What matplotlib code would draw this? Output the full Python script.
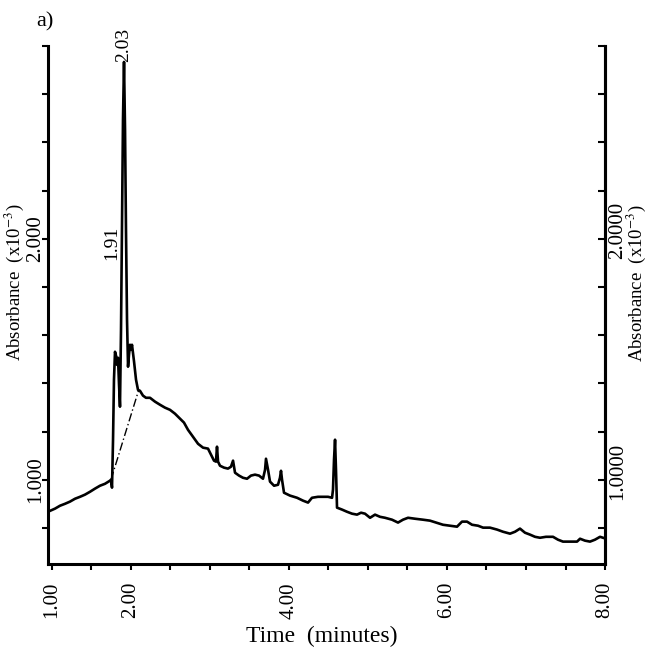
import numpy as np
import matplotlib
matplotlib.use('Agg')
import matplotlib.pyplot as plt
import matplotlib.transforms as mtransforms

plt.rcParams['font.family'] = ['Liberation Serif', 'DejaVu Serif']
plt.rcParams['mathtext.fontset'] = 'stix'

# chromatogram trace (time in minutes, absorbance x10^-3)
time_min = [0.950, 1.039, 1.102, 1.165, 1.228, 1.292, 1.355, 1.418, 1.482, 1.545,
            1.608, 1.671, 1.735, 1.747, 1.760, 1.773, 1.785, 1.798, 1.811, 1.823,
            1.836, 1.849, 1.861, 1.874, 1.887, 1.899, 1.912, 1.925, 1.937, 1.950,
            1.963, 1.975, 1.988, 2.001, 2.013, 2.039, 2.064, 2.089, 2.114, 2.152,
            2.190, 2.241, 2.304, 2.368, 2.431, 2.494, 2.557, 2.621, 2.671, 2.722,
            2.785, 2.849, 2.912, 2.975, 3.013, 3.051, 3.076, 3.089, 3.102, 3.127,
            3.178, 3.228, 3.266, 3.292, 3.317, 3.368, 3.418, 3.469, 3.519, 3.570,
            3.621, 3.671, 3.697, 3.709, 3.735, 3.760, 3.811, 3.861, 3.886, 3.899,
            3.912, 3.937, 4.013, 4.102, 4.178, 4.241, 4.291, 4.367, 4.431, 4.494,
            4.545, 4.557, 4.570, 4.583, 4.595, 4.608, 4.671, 4.734, 4.798, 4.861,
            4.912, 4.962, 5.026, 5.089, 5.152, 5.215, 5.304, 5.380, 5.443, 5.507,
            5.595, 5.696, 5.785, 5.861, 5.949, 6.038, 6.127, 6.190, 6.253, 6.317,
            6.393, 6.456, 6.544, 6.633, 6.709, 6.798, 6.861, 6.924, 6.987, 7.051,
            7.114, 7.177, 7.253, 7.342, 7.405, 7.468, 7.557, 7.646, 7.684, 7.747,
            7.810, 7.873, 7.937, 7.975]
absorb = [0.867, 0.880, 0.892, 0.900, 0.909, 0.921, 0.929, 0.938, 0.950, 0.963,
          0.975, 0.983, 0.996, 1.000, 0.967, 1.166, 1.415, 1.531, 1.515, 1.477,
          1.506, 1.394, 1.303, 1.622, 2.079, 2.494, 2.734, 2.452, 2.037, 1.664,
          1.469, 1.519, 1.560, 1.539, 1.560, 1.490, 1.415, 1.373, 1.369, 1.349,
          1.340, 1.340, 1.324, 1.311, 1.299, 1.290, 1.274, 1.253, 1.237, 1.207,
          1.178, 1.149, 1.133, 1.129, 1.104, 1.079, 1.075, 1.137, 1.075, 1.058,
          1.050, 1.046, 1.054, 1.079, 1.029, 1.017, 1.008, 1.004, 1.017, 1.021,
          1.017, 1.004, 1.041, 1.087, 1.041, 0.992, 0.975, 0.979, 1.008, 1.037,
          1.000, 0.946, 0.934, 0.925, 0.913, 0.905, 0.925, 0.929, 0.929, 0.929,
          0.925, 0.959, 1.083, 1.166, 1.041, 0.884, 0.876, 0.867, 0.859, 0.855,
          0.863, 0.859, 0.842, 0.855, 0.846, 0.842, 0.834, 0.822, 0.834, 0.842,
          0.838, 0.834, 0.830, 0.822, 0.813, 0.809, 0.805, 0.826, 0.826, 0.813,
          0.809, 0.801, 0.801, 0.793, 0.784, 0.776, 0.784, 0.797, 0.780, 0.772,
          0.763, 0.759, 0.763, 0.763, 0.751, 0.743, 0.743, 0.743, 0.755, 0.747,
          0.743, 0.751, 0.763, 0.759]

# dash-dot baseline drawn under the main peak group
base_time = [1.747, 2.095]
base_abs = [1.000, 1.369]

# peak annotations: (label, time, absorbance of label foot)
peak_labels = ['2.03', '1.91']
peak_times = [1.912, 1.755]
peak_abs = [2.734, 1.913]

x_ticks = np.arange(1.0, 8.01, 0.5)
x_labels = {1.0: '1.00', 2.0: '2.00', 4.0: '4.00', 6.0: '6.00', 8.0: '8.00'}
y_ticks = np.arange(0.8, 2.81, 0.2)
y_left_labels = {1.0: '1.000', 2.0: '2.000'}
y_right_labels = {1.0: '1.0000', 2.0: '2.0000'}

fig = plt.figure(figsize=(6.47, 6.51), dpi=100)
ax = fig.add_axes([0.0742, 0.1336, 0.8609, 0.7957])

ax.plot(time_min, absorb, color='black', lw=1.9, solid_joinstyle='round')
ax.plot(base_time, base_abs, color='black', lw=1.0, linestyle=(0, (6, 2, 1, 2)))

for lab, t, a in zip(peak_labels, peak_times, peak_abs):
    ax.text(t, a, lab, rotation=90, ha='center', va='bottom', fontsize=14)

ax.set_xlim(0.95, 8.0)
ax.set_ylim(0.65, 2.80)

ax.spines['top'].set_visible(False)
for s in ['left', 'right', 'bottom']:
    ax.spines[s].set_linewidth(2.2)

ax.set_xticks(x_ticks)
ax.set_xticklabels([x_labels.get(round(v, 2), '') for v in x_ticks],
                   rotation=90, fontsize=15)
ax.tick_params(axis='x', direction='out', length=4, width=1.5, pad=9)

ax.set_yticks(y_ticks)
ax.set_yticklabels([y_left_labels.get(round(v, 2), '') for v in y_ticks],
                   rotation=90, va='center', fontsize=15)
ax.tick_params(axis='y', direction='out', length=4, width=1.5, pad=-2)

ax2 = ax.twinx()
ax2.set_ylim(ax.get_ylim())
ax2.spines['top'].set_visible(False)
ax2.spines['right'].set_linewidth(2.2)
ax2.set_yticks(y_ticks)
ax2.set_yticklabels([y_right_labels.get(round(v, 2), '') for v in y_ticks],
                    rotation=90, va='center', fontsize=15)
ax2.tick_params(axis='y', direction='in', length=5, width=1.5, pad=2)
# right-hand labels sit a little above their ticks in the original
shift_up = mtransforms.ScaledTranslation(0, 8 / 100, fig.dpi_scale_trans)
for lbl in ax2.get_yticklabels():
    lbl.set_transform(lbl.get_transform() + shift_up)

fig.text(0.022, 0.567, r'Absorbance  (x10$^{-3}$)', rotation=90,
         ha='center', va='center', fontsize=13.5)
fig.text(0.984, 0.565, r'Absorbance  (x10$^{-3}$)', rotation=90,
         ha='center', va='center', fontsize=13.5)
fig.text(0.498, 0.022, 'Time  (minutes)', ha='center', va='center', fontsize=17)
fig.text(0.0696, 0.966, 'a)', ha='center', va='center', fontsize=16)

fig.savefig('out.png', dpi=100)
